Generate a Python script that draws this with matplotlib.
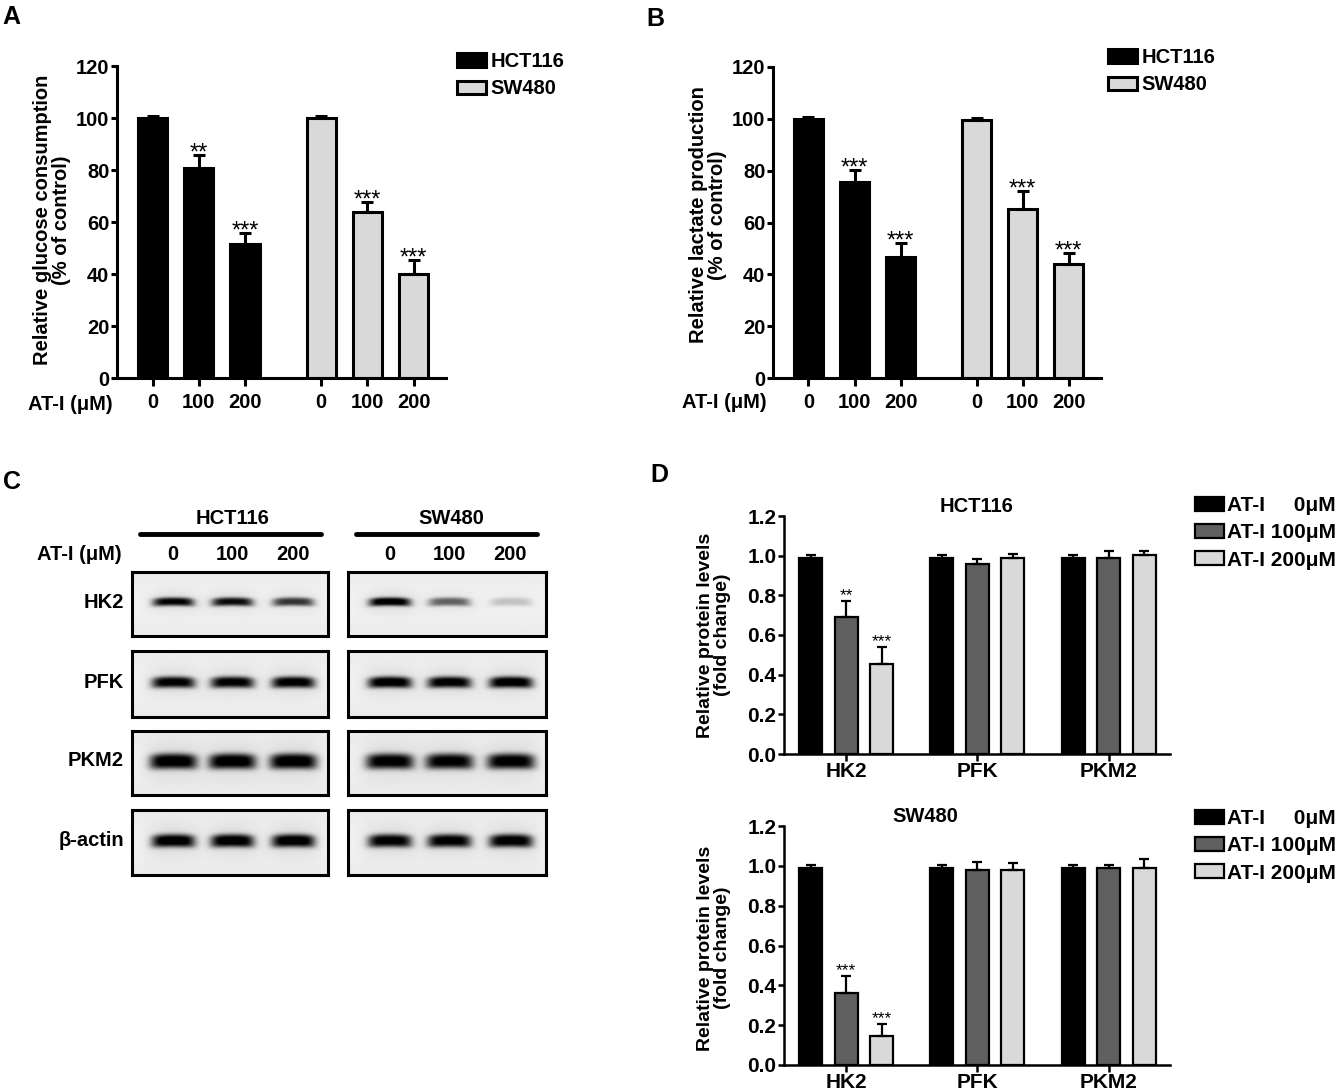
import numpy as np
import matplotlib
matplotlib.use('Agg')
import matplotlib.pyplot as plt
from matplotlib.lines import Line2D

plt.rcParams['font.family'] = ['Liberation Sans', 'DejaVu Sans']
plt.rcParams['font.weight'] = 'bold'

# ---- data ----
conc = ['0', '100', '200']
cells = ['HCT116', 'SW480']

# A: glucose consumption (% of control)
glu_hct = [100, 80.8, 51.5]
glu_hct_err = [0.9, 5.1, 4.3]
glu_hct_stars = ['', '**', '***']
glu_sw = [100, 63.8, 40.0]
glu_sw_err = [0.8, 4.0, 5.5]
glu_sw_stars = ['', '***', '***']

# B: lactate production (% of control)
lac_hct = [100, 75.7, 46.8]
lac_hct_err = [0.9, 4.5, 5.2]
lac_hct_stars = ['', '***', '***']
lac_sw = [99.6, 65.1, 44.0]
lac_sw_err = [0.9, 7.1, 4.1]
lac_sw_stars = ['', '***', '***']

# C: western blot band intensities (0 = none, 1 = saturated)
blot_rows = ['HK2', 'PFK', 'PKM2', 'β-actin']
band_hct = [[0.92, 0.88, 0.72], [0.95, 0.95, 0.97], [1.0, 1.0, 1.0], [1.0, 1.0, 1.0]]
band_sw = [[1.0, 0.55, 0.18], [1.0, 0.97, 1.0], [0.97, 0.95, 0.97], [0.96, 0.96, 0.98]]

# D: relative protein levels (fold change)
proteins = ['HK2', 'PFK', 'PKM2']
doses = ['AT-I     0μM', 'AT-I 100μM', 'AT-I 200μM']
hct_0 = [0.99, 0.99, 0.99]
hct_100 = [0.69, 0.96, 0.99]
hct_200 = [0.455, 0.99, 1.005]
hct_0_err = [0.015, 0.015, 0.015]
hct_100_err = [0.08, 0.022, 0.032]
hct_200_err = [0.085, 0.02, 0.02]
hct_100_stars = ['**', '', '']
hct_200_stars = ['***', '', '']
sw_0 = [0.99, 0.99, 0.99]
sw_100 = [0.36, 0.98, 0.99]
sw_200 = [0.146, 0.98, 0.988]
sw_0_err = [0.015, 0.015, 0.015]
sw_100_err = [0.085, 0.04, 0.013]
sw_200_err = [0.06, 0.033, 0.046]
sw_100_stars = ['***', '', '']
sw_200_stars = ['***', '', '']

# ---- layout helpers (pixel coords, origin top-left) ----
W, H = 1340, 1092
fig = plt.figure(figsize=(W / 100, H / 100), dpi=100)


def box(x0, y0, x1, y1):
    return [x0 / W, 1 - y1 / H, (x1 - x0) / W, (y1 - y0) / H]


def fx(x):
    return x / W


def fy(y):
    return 1 - y / H


def style_axes(ax, lw):
    for s in ['top', 'right']:
        ax.spines[s].set_visible(False)
    for s in ['left', 'bottom']:
        ax.spines[s].set_linewidth(lw)


# ---- panels A and B ----
def dose_panel(rect, hct, hct_err, hct_stars, sw, sw_err, sw_stars,
               ylabel, ylab_xy, dose_xy, leg_xy):
    ax = fig.add_axes(box(*rect))
    x_h = np.arange(3)
    x_s = x_h + 3.65
    b1 = ax.bar(x_h, hct, 0.63, color='black', edgecolor='black', linewidth=2.2, zorder=2)
    b2 = ax.bar(x_s, sw, 0.63, color='#d9d9d9', edgecolor='black', linewidth=2.2, zorder=2)
    for xs, m, e, st in [(x_h, hct, hct_err, hct_stars), (x_s, sw, sw_err, sw_stars)]:
        ax.errorbar(xs, m, yerr=[np.zeros(3), e], fmt='none', ecolor='black',
                    elinewidth=2.2, capsize=4.5, capthick=2.2, zorder=3)
        for xi, mi, ei, s in zip(xs, m, e, st):
            ax.text(xi, mi + ei - 1.8, s, ha='center', va='baseline',
                    fontsize=17, fontweight='normal')
    ax.set_xlim(-0.77, 6.35)
    ax.set_ylim(0, 120)
    ax.set_yticks(range(0, 121, 20))
    ax.set_xticks(np.r_[x_h, x_s], conc * 2)
    style_axes(ax, 2.2)
    ax.tick_params(axis='y', width=2.2, length=4.5, pad=1, labelsize=14.5)
    ax.tick_params(axis='x', width=2.2, length=6, pad=5, labelsize=14.5)
    fig.text(fx(ylab_xy[0]), fy(ylab_xy[1]), ylabel, rotation=90, ha='center',
             va='center', fontsize=14.5, multialignment='center', linespacing=1.0)
    fig.text(fx(dose_xy[0]), fy(dose_xy[1]), 'AT-I (μM)', ha='right', va='center', fontsize=14.5)
    ax.legend([b1, b2], cells, loc='upper left', bbox_to_anchor=(fx(leg_xy[0]), fy(leg_xy[1])),
              bbox_transform=fig.transFigure, frameon=False, fontsize=14.5,
              handlelength=1.45, handleheight=0.65, handletextpad=0.2,
              labelspacing=0.42, borderpad=0, borderaxespad=0)


dose_panel((117, 66, 446, 378), glu_hct, glu_hct_err, glu_hct_stars,
           glu_sw, glu_sw_err, glu_sw_stars,
           'Relative glucose consumption\n(% of control)', (52, 220), (113, 405), (457, 52))
dose_panel((773, 67, 1101, 378), lac_hct, lac_hct_err, lac_hct_stars,
           lac_sw, lac_sw_err, lac_sw_stars,
           'Relative lactate production\n(% of control)', (708, 215), (767, 403), (1108, 48))

# ---- panel C: western blots ----
blot_x = [(132, 328), (348, 546)]
blot_y = [(572, 636), (651, 717), (731, 795), (810, 875)]
band_half_h = [0.065, 0.085, 0.12, 0.1]
band_half_w = [0.105, 0.11, 0.12, 0.11]
lane_x = np.array([0.21, 0.51, 0.82])


def blot_image(intens, hh, hw):
    u = np.linspace(0, 1, 400)[None, :]
    v = np.linspace(0, 1, 130)[:, None]
    img = 0.05 + 0.03 * (1 - np.exp(-((v - 0.5) / 0.35) ** 2)) + 0 * u
    for cx, val in zip(lane_x, intens):
        du = (u - cx) / hw
        dv = (v - 0.47 - 0.015 * du ** 2) / hh
        core = np.exp(-np.abs(du) ** 5) * np.exp(-np.abs(dv) ** 3)
        halo = np.exp(-np.abs(du / 1.25) ** 3) * np.exp(-(dv / 2.5) ** 2)
        img = img + val * (0.95 * core + 0.1 * halo)
    return np.clip(img, 0, 1)


for c, bands in enumerate([band_hct, band_sw]):
    for r, name in enumerate(blot_rows):
        x0, x1 = blot_x[c]
        y0, y1 = blot_y[r]
        ax = fig.add_axes(box(x0, y0, x1, y1))
        ax.imshow(blot_image(bands[r], band_half_h[r], band_half_w[r]), cmap='gray_r',
                  vmin=0, vmax=1, extent=(0, 1, 1, 0), aspect='auto', interpolation='bilinear')
        ax.set_xlim(0, 1)
        ax.set_ylim(1, 0)
        ax.set_xticks([])
        ax.set_yticks([])
        for s in ax.spines.values():
            s.set_linewidth(2.2)
        if c == 0:
            fig.text(fx(124), fy((y0 + y1) / 2 - 2), name, ha='right', va='center', fontsize=14.5)
    for k, lab in enumerate(conc):
        x0, x1 = blot_x[c]
        fig.text(fx(x0 + lane_x[k] * (x1 - x0)), fy(555), lab, ha='center', va='center', fontsize=14.5)

fig.text(fx(122), fy(555), 'AT-I (μM)', ha='right', va='center', fontsize=14.5)
for name, (lx0, lx1), tx in zip(cells, [(140, 321), (356, 537)], [233, 451]):
    fig.text(fx(tx), fy(518), name, ha='center', va='center', fontsize=14.5)
    fig.add_artist(Line2D([fx(lx0), fx(lx1)], [fy(534), fy(534)], transform=fig.transFigure,
                          lw=3.5, color='black', solid_capstyle='round'))


# ---- panel D ----
def protein_panel(rect, title, title_xy, vals, errs, stars, leg_top, ylab_y):
    ax = fig.add_axes(box(*rect))
    g = np.arange(3) * 3.7
    colors = ['black', '#5f5f5f', '#d9d9d9']
    handles = []
    for k in range(3):
        xs = g + (k - 1)
        b = ax.bar(xs, vals[k], 0.65, color=colors[k], edgecolor='black', linewidth=1.6, zorder=2)
        ax.errorbar(xs, vals[k], yerr=[np.zeros(3), errs[k]], fmt='none', ecolor='black',
                    elinewidth=1.6, capsize=3.5, capthick=1.6, zorder=3)
        for xi, m, e, s in zip(xs, vals[k], errs[k], stars[k]):
            ax.text(xi, m + e + 0.004, s, ha='center', va='baseline', fontsize=12.5, fontweight='normal')
        handles.append(b)
    ax.set_xlim(-1.75, 9.13)
    ax.set_ylim(0, 1.2)
    ax.set_yticks(np.arange(0, 1.21, 0.2))
    ax.set_xticks(g, proteins)
    style_axes(ax, 1.8)
    ax.tick_params(axis='y', width=1.8, length=4, pad=1.5, labelsize=15)
    ax.tick_params(axis='x', width=1.8, length=5, pad=1, labelsize=15)
    fig.text(fx(title_xy[0]), fy(title_xy[1]), title, ha='center', va='center', fontsize=14.5)
    fig.text(fx(714), fy(ylab_y), 'Relative protein levels\n(fold change)', rotation=90,
             ha='center', va='center', fontsize=14, multialignment='center', linespacing=1.0)
    ax.legend(handles, doses, loc='upper left', bbox_to_anchor=(fx(1195), fy(leg_top)),
              bbox_transform=fig.transFigure, frameon=False, fontsize=15,
              handlelength=1.4, handleheight=0.67, handletextpad=0.15,
              labelspacing=0.4, borderpad=0, borderaxespad=0)


protein_panel((784, 516, 1170, 754), 'HCT116', (977, 507),
              [hct_0, hct_100, hct_200], [hct_0_err, hct_100_err, hct_200_err],
              [['', '', ''], hct_100_stars, hct_200_stars], 496, 635)
protein_panel((784, 826, 1170, 1065), 'SW480', (925, 817),
              [sw_0, sw_100, sw_200], [sw_0_err, sw_100_err, sw_200_err],
              [['', '', ''], sw_100_stars, sw_200_stars], 809, 948)

# ---- panel letters ----
for lab, (x, y) in zip('ABCD', [(2, 5), (646, 7), (3, 470), (650, 463)]):
    fig.text(fx(x), fy(y), lab, ha='left', va='top', fontsize=18)

fig.savefig('out.png', dpi=100)
